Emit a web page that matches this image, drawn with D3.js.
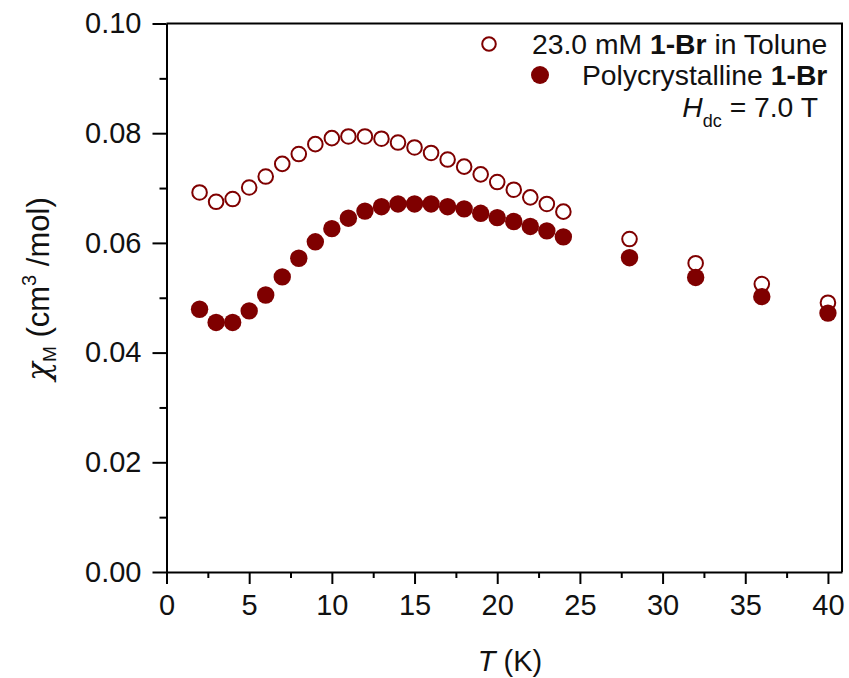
<!DOCTYPE html>
<html>
<head>
<meta charset="utf-8">
<script src="https://cdn.jsdelivr.net/npm/d3@7"></script>
<style>
  html, body { margin: 0; padding: 0; background: #fff; }
  svg { display: block; font-family: "Liberation Sans", Arial, sans-serif; }
</style>
</head>
<body>
<svg id="chart" width="849" height="678"></svg>
<script>
// Temperature points (K)
const temps = [2,3,4,5,6,7,8,9,10,11,12,13,14,15,16,17,18,19,20,21,22,23,24,28,32,36,40];
// Molar susceptibility, 23.0 mM solution in toluene (cm^3/mol)
const chiSolution = [0.0692,0.0675,0.0680,0.0701,0.0721,0.0744,0.0762,0.0780,0.0791,0.0794,0.0794,0.0790,0.0783,0.0774,0.0764,0.0752,0.0739,0.0725,0.0711,0.0697,0.0683,0.0671,0.0657,0.0607,0.0563,0.0525,0.0491];
// Molar susceptibility, polycrystalline sample (cm^3/mol)
const chiSolid = [0.0479,0.0455,0.0455,0.0476,0.0505,0.0538,0.0572,0.0602,0.0626,0.0645,0.0658,0.0666,0.0671,0.0671,0.0671,0.0666,0.0662,0.0654,0.0646,0.0639,0.0630,0.0622,0.0611,0.0573,0.0537,0.0502,0.0472];
const xTicks = [0,5,10,15,20,25,30,35,40];
const yTicks = [0.00,0.02,0.04,0.06,0.08,0.10];

const color = "#7f0000";
const svg = d3.select("#chart");
const plotLeft = 166.5, plotRight = 842, plotTop = 23.5, plotBottom = 572;

const x = d3.scaleLinear().domain([0, 40.85]).range([plotLeft, plotRight]);
const y = d3.scaleLinear().domain([0, 0.10]).range([plotBottom, plotTop]);

// frame (top and right)
svg.append("path")
  .attr("d", `M${plotLeft},${plotTop}H${plotRight}V${plotBottom}`)
  .attr("fill", "none").attr("stroke", "#000").attr("stroke-width", 2);

// minor ticks
const xMinor = d3.range(2.5, 41, 5);
svg.append("g").attr("transform", `translate(0,${plotBottom})`)
  .call(d3.axisBottom(x).tickValues(xMinor).tickSize(6).tickFormat(""))
  .call(g => g.select(".domain").remove())
  .call(g => g.selectAll("line").attr("stroke-width", 2));
const yMinor = [0.01,0.03,0.05,0.07,0.09];
svg.append("g").attr("transform", `translate(${plotLeft},0)`)
  .call(d3.axisLeft(y).tickValues(yMinor).tickSize(7).tickFormat(""))
  .call(g => g.select(".domain").remove())
  .call(g => g.selectAll("line").attr("stroke-width", 2));

// major axes
const xAxis = svg.append("g").attr("transform", `translate(0,${plotBottom})`)
  .call(d3.axisBottom(x).tickValues(xTicks).tickSize(12).tickPadding(10).tickSizeOuter(0).tickFormat(d3.format("d")));
const yAxis = svg.append("g").attr("transform", `translate(${plotLeft},0)`)
  .call(d3.axisLeft(y).tickValues(yTicks).tickSize(14).tickPadding(11).tickSizeOuter(0).tickFormat(d3.format(".2f")));
[xAxis, yAxis].forEach(g => {
  g.selectAll("line").attr("stroke-width", 2);
  g.select(".domain").attr("stroke-width", 2);
  g.selectAll("text").attr("font-size", 29).attr("fill", "#111").attr("font-family", "Liberation Sans, Arial, sans-serif");
});

// data markers
const solid = temps.map((t, i) => ({t, v: chiSolid[i]}));
const sol = temps.map((t, i) => ({t, v: chiSolution[i]}));

svg.append("g").selectAll("circle").data(solid).join("circle")
  .attr("cx", d => x(d.t)).attr("cy", d => y(d.v)).attr("r", 8.7)
  .attr("fill", color);
svg.append("g").selectAll("circle").data(sol).join("circle")
  .attr("cx", d => x(d.t)).attr("cy", d => y(d.v)).attr("r", 7.3)
  .attr("fill", "none").attr("stroke", color).attr("stroke-width", 2);

// legend
const lg = svg.append("g").attr("font-size", 28.3).attr("fill", "#111");
lg.append("circle").attr("cx", 489).attr("cy", 44).attr("r", 6.8)
  .attr("fill", "none").attr("stroke", color).attr("stroke-width", 2);
const t1 = lg.append("text").attr("x", 532).attr("y", 54);
t1.append("tspan").text("23.0 mM ");
t1.append("tspan").attr("font-weight", "bold").text("1-Br");
t1.append("tspan").text(" in Tolune");

lg.append("circle").attr("cx", 540).attr("cy", 75).attr("r", 9).attr("fill", color);
const t2 = lg.append("text").attr("x", 582).attr("y", 85);
t2.append("tspan").text("Polycrystalline ");
t2.append("tspan").attr("font-weight", "bold").text("1-Br");

const t3 = lg.append("text").attr("x", 818).attr("y", 117).attr("text-anchor", "end");
t3.append("tspan").attr("font-style", "italic").text("H");
t3.append("tspan").attr("font-size", 18).attr("dy", 10).text("dc");
t3.append("tspan").attr("dy", -10).text(" = 7.0 T");

// axis titles
const xt = svg.append("text").attr("x", 510).attr("y", 671)
  .attr("text-anchor", "middle").attr("font-size", 29).attr("fill", "#111");
xt.append("tspan").attr("font-style", "italic").text("T");
xt.append("tspan").text(" (K)");

const yt = svg.append("text").attr("transform", "translate(49,289) rotate(-90)")
  .attr("text-anchor", "middle").attr("font-size", 31).attr("fill", "#111");
yt.append("tspan").attr("font-style", "italic").attr("font-family", "DejaVu Serif, serif").text("χ");
yt.append("tspan").attr("font-size", 19).attr("dy", 7).text("M");
yt.append("tspan").attr("dy", -7).text("  (cm");
yt.append("tspan").attr("font-size", 20).attr("dy", -13).text("3");
yt.append("tspan").attr("dy", 13).text(" /mol)");
</script>
</body>
</html>
